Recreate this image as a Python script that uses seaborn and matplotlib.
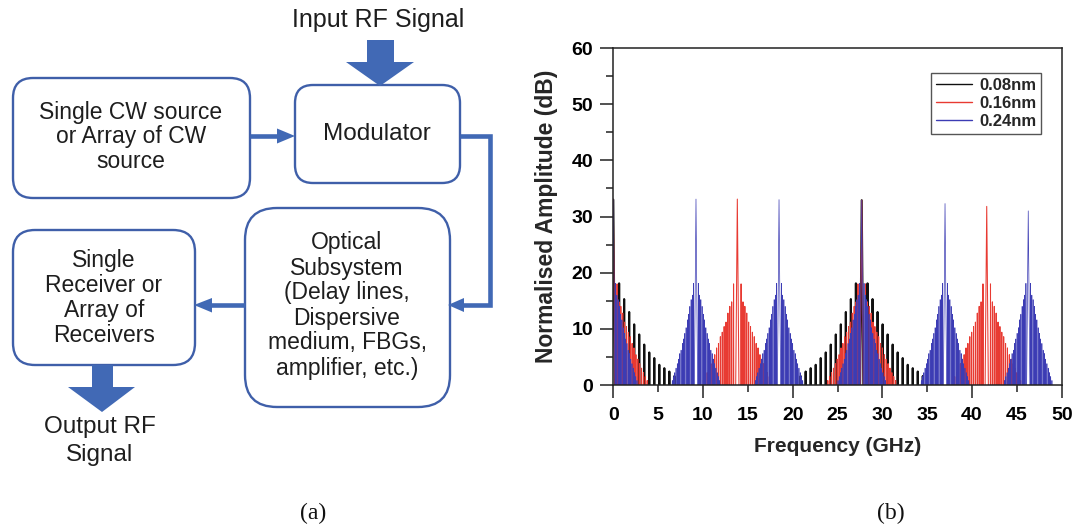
import matplotlib
matplotlib.use("Agg")
import matplotlib.pyplot as plt
from matplotlib.patches import FancyBboxPatch, Polygon
from matplotlib.ticker import MultipleLocator, FormatStrFormatter
import pandas as pd
import seaborn as sns

# ---------------- spectrum data for panel (b) ----------------
series_labels = ["0.08nm", "0.16nm", "0.24nm"]

# carrier lines: frequency (GHz) and amplitude (dB)
black_peak_freq = [0.0, 27.7]
black_peak_amp = [33.0, 32.9]
red_peak_freq = [0.0, 13.83, 27.7, 41.64]
red_peak_amp = [33.0, 33.1, 32.9, 31.8]
blue_peak_freq = [0.0, 9.22, 18.48, 27.7, 36.99, 46.27]
blue_peak_amp = [33.0, 33.1, 33.0, 32.9, 32.3, 31.0]

# sideband comb lines: offset from carrier (GHz) and amplitude (dB)
black_side_offset = [0.65, 1.21, 1.77, 2.33, 2.89, 3.45, 4.01, 4.57, 5.13, 5.69, 6.25, 6.81]
black_side_amp = [18.1, 15.3, 13.0, 10.8, 9.0, 7.2, 5.8, 4.8, 3.6, 3.0, 2.4, 1.6]
red_side_offset = [0.42, 0.63, 0.84, 1.05, 1.26, 1.47, 1.68, 1.89, 2.10,
                   2.31, 2.52, 2.73, 2.94, 3.15, 3.36, 3.57, 3.78]
red_side_amp = [18.0, 14.8, 14.0, 12.8, 11.2, 10.4, 9.4, 8.6, 7.4,
                6.6, 5.4, 4.6, 3.8, 3.0, 2.2, 1.5, 0.8]
blue_side_offset = [0.26, 0.40, 0.54, 0.68, 0.82, 0.96, 1.10, 1.24, 1.38,
                    1.52, 1.66, 1.80, 1.94, 2.08, 2.22, 2.36, 2.50, 2.64]
blue_side_amp = [18.1, 16.0, 15.2, 14.0, 12.6, 11.6, 10.2, 9.2, 8.2,
                 7.4, 6.2, 5.6, 4.6, 3.8, 3.0, 2.2, 1.5, 0.8]

x_ticks = [0, 10, 20, 30, 40, 50]
y_ticks = [0, 10, 20, 30, 40, 50, 60]

palette = {"0.08nm": "#101010", "0.16nm": "#e83a32", "0.24nm": "#3c3cb4"}
line_width = {"0.08nm": 1.5, "0.16nm": 0.75, "0.24nm": 0.5}
CARRIER_HW = 0.18   # drawn half-width of a carrier line at its base (GHz)
SIDE_HW = 0.02      # drawn half-width of a sideband line at its base (GHz)

# build a long-form table: one "unit" per spectral line
rows = []
uid = 0


def add_lines(label, peak_freq, peak_amp, side_offset, side_amp):
    global uid
    for f0, a0 in zip(peak_freq, peak_amp):
        lines = [(f0, a0, CARRIER_HW)]
        for d, a in zip(side_offset, side_amp):
            lines.append((f0 - d, a, SIDE_HW))
            lines.append((f0 + d, a, SIDE_HW))
        for f, a, hw in lines:
            if f < -0.01 or f > 50:
                continue
            for x, y in ((f - hw, 0.0), (f, a), (f + hw, 0.0)):
                rows.append({"freq": x, "amp": y, "series": label, "line": uid})
            uid += 1


add_lines("0.08nm", black_peak_freq, black_peak_amp, black_side_offset, black_side_amp)
add_lines("0.16nm", red_peak_freq, red_peak_amp, red_side_offset, red_side_amp)
add_lines("0.24nm", blue_peak_freq, blue_peak_amp, blue_side_offset, blue_side_amp)
spec = pd.DataFrame(rows)

# ---------------- figure ----------------
sns.set_style("ticks")
plt.rcParams["font.family"] = ["Liberation Sans", "DejaVu Sans"]

W, H = 1074, 531
fig = plt.figure(figsize=(W / 100, H / 100), dpi=100)

# panel (a): block diagram drawn in pixel units
ad = fig.add_axes([0, 0, 1, 1])
ad.set_xlim(0, W)
ad.set_ylim(H, 0)
ad.axis("off")

EDGE = "#3f5fa9"
FILL = "#4169b5"
TXT = "#1e1e1e"


def box(x0, y0, x1, y1, r):
    ad.add_patch(FancyBboxPatch((x0, y0), x1 - x0, y1 - y0,
                                boxstyle=f"round,pad=0,rounding_size={r}",
                                fc="white", ec=EDGE, lw=1.7))


def lines_text(x, ys, texts, size):
    for y, t in zip(ys, texts):
        ad.text(x, y, t, ha="center", va="center", fontsize=size, color=TXT)


box(13, 78, 250, 198, 20)
box(295, 85, 460, 183, 18)
box(245, 208, 450, 407, 32)
box(13, 230, 195, 365, 22)

lines_text(131, [113, 137, 162], ["Single CW source", "or Array of CW", "source"], 16.5)
lines_text(377, [134], ["Modulator"], 17.5)
lines_text(347, [243, 268, 293, 318, 343, 369],
           ["Optical", "Subsystem", "(Delay lines,", "Dispersive",
            "medium, FBGs,", "amplifier, etc.)"], 16.5)
lines_text(104, [260, 285, 310, 335],
           ["Single", "Receiver or", "Array of", "Receivers"], 16.5)
lines_text(378, [20], ["Input RF Signal"], 18)
lines_text(100, [427, 455], ["Output RF", "Signal"], 17.5)

# thick block arrows (input / output)
ad.add_patch(Polygon([(367, 40), (394, 40), (394, 62), (414, 62), (380, 86),
                      (346, 62), (367, 62)], closed=True, fc=FILL, ec="none"))
ad.add_patch(Polygon([(92, 365), (113, 365), (113, 387), (135, 387), (102, 412),
                      (68, 387), (92, 387)], closed=True, fc=FILL, ec="none"))

# connector lines with arrow heads
LW = 3.3
ad.plot([250, 279], [136, 136], color=FILL, lw=LW, solid_capstyle="butt")
ad.add_patch(Polygon([(277, 128.5), (295, 136), (277, 143.5)], fc=FILL, ec="none"))
ad.plot([460, 490, 490, 462], [136, 136, 305, 305], color=FILL, lw=LW,
        solid_capstyle="butt", solid_joinstyle="miter")
ad.add_patch(Polygon([(464, 298), (448, 305), (464, 312)], fc=FILL, ec="none"))
ad.plot([245, 210], [305, 305], color=FILL, lw=LW, solid_capstyle="butt")
ad.add_patch(Polygon([(212, 298), (194, 305), (212, 312.5)], fc=FILL, ec="none"))

# panel labels
fig.text(313 / W, 1 - 513 / H, "(a)", ha="center", va="center", fontsize=17,
         family=["Liberation Serif", "DejaVu Serif"], color="#111111")
fig.text(891 / W, 1 - 513 / H, "(b)", ha="center", va="center", fontsize=17,
         family=["Liberation Serif", "DejaVu Serif"], color="#111111")

# panel (b): spectrum
ax = fig.add_axes([613.3 / W, 1 - 385 / H, (1061.7 - 613.3) / W, (385 - 48) / H])
for lab in series_labels:
    sns.lineplot(data=spec[spec["series"] == lab], x="freq", y="amp",
                 units="line", estimator=None, sort=False, color=palette[lab],
                 linewidth=line_width[lab], label=lab, ax=ax)

ax.set_xlim(0, 50)
ax.set_ylim(0, 60)
ax.set_xticks(x_ticks)
ax.set_yticks(y_ticks)
ax.xaxis.set_minor_locator(MultipleLocator(5))
ax.xaxis.set_minor_formatter(FormatStrFormatter("%d"))
ax.yaxis.set_minor_locator(MultipleLocator(5))
ax.tick_params(which="major", direction="out", length=9.5, width=1.1,
               labelsize=14, pad=6, colors="#222222")
ax.tick_params(which="minor", direction="out", length=5, width=1.1,
               labelsize=14, pad=10.5, colors="#222222")
ax.tick_params(axis="y", which="major", pad=5)
for lab in ax.get_xticklabels(which="both") + ax.get_yticklabels():
    lab.set_fontweight("bold")
    lab.set_color("black")
for sp in ax.spines.values():
    sp.set_visible(True)
    sp.set_linewidth(1.1)
    sp.set_color("#222222")

ax.set_xlabel("Frequency (GHz)", fontsize=15, fontweight="bold", labelpad=10)
ax.set_ylabel("Normalised Amplitude (dB)", fontsize=16.5, fontweight="bold", labelpad=10)

# one legend entry per series
handles, labels = ax.get_legend_handles_labels()
seen = {}
for h, l in zip(handles, labels):
    seen.setdefault(l, h)
leg = ax.legend([seen[l] for l in series_labels], series_labels,
                loc="upper right", bbox_to_anchor=(0.954, 0.926),
                frameon=True, fancybox=False, edgecolor="#555555", framealpha=1,
                prop={"weight": "bold", "size": 12}, handlelength=2.2,
                handletextpad=0.4, borderpad=0.3, labelspacing=0.18,
                borderaxespad=0)
leg.get_frame().set_linewidth(1.0)
for h in leg.get_lines():
    h.set_linewidth(1.0)

fig.savefig("out.png", dpi=100)
